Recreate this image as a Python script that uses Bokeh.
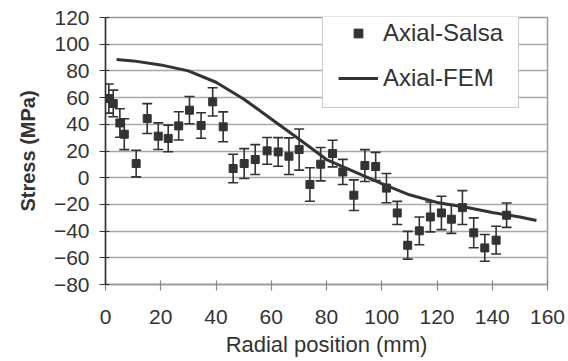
from bokeh.plotting import figure
from bokeh.models import ColumnDataSource, Whisker, Legend, LegendItem, FixedTicker, Range1d, TeeHead
from bokeh.embed import file_html
from bokeh.resources import INLINE

# ---- data ----
x_salsa = [1.2, 2.8, 5.2, 6.8, 11.1, 15.1, 19.1, 22.7, 26.5, 30.4, 34.6, 38.8, 42.6,
           46.2, 50.2, 54.2, 58.5, 62.5, 66.4, 70.1, 74.0, 77.9, 82.2, 85.9, 89.9,
           93.9, 97.8, 101.7, 105.6, 109.4, 113.6, 117.6, 121.6, 125.2, 129.2, 133.3,
           137.3, 141.4, 145.2]
y_salsa = [59.3, 55.6, 41, 32.6, 10.6, 44.3, 31.1, 29.4, 38.8, 50.6, 39.1, 56.8, 38.1,
           6.9, 10.6, 13.6, 20.1, 19.3, 16.1, 21.1, -5.1, 10.1, 18.1, 4.3, -13.1,
           9.1, 8.4, -7.8, -26.4, -50.6, -39.8, -29.4, -26.4, -31.1, -22.4, -41.3,
           -52.6, -46.8, -28.1]
err_salsa = [10.9, 10, 10.7, 11.6, 10, 11.2, 10, 10, 10.6, 10.2, 9.6, 10.6, 11.2,
             10.7, 11.2, 11.2, 10, 10.7, 13.7, 15.4, 12.5, 12.5, 10, 9.4, 11.5,
             11.9, 10.6, 11, 8.7, 10.4, 10.4, 11.2, 12.5, 10.6, 12.7, 11.2,
             10, 10.4, 9.1]
x_fem = [4, 10, 20, 30, 40, 50, 60, 70, 80, 90, 100, 110, 120, 130, 140, 150, 156]
y_fem = [88.5, 87.5, 84.5, 80, 71.5, 59, 44, 29, 13.6, 4.5, -4.5, -12.8, -18.5,
         -22, -26, -29.5, -32]
x_ticks = [0, 20, 40, 60, 80, 100, 120, 140, 160]
y_ticks = [-80, -60, -40, -20, 0, 20, 40, 60, 80, 100, 120]

FONT = "Liberation Sans"
DARK = "#333333"

src = ColumnDataSource(dict(
    x=x_salsa, y=y_salsa,
    upper=[v + e for v, e in zip(y_salsa, err_salsa)],
    lower=[v - e for v, e in zip(y_salsa, err_salsa)],
))

p = figure(width=568, height=361, x_range=Range1d(0, 160), y_range=Range1d(-80, 120),
           output_backend="svg", toolbar_location=None,
           min_border_left=105, min_border_right=21, min_border_top=17, min_border_bottom=77)
p.background_fill_color = "white"
p.border_fill_color = "white"
p.outline_line_color = "#999999"
p.outline_line_width = 1.5

p.xgrid.visible = False
p.ygrid.ticker = FixedTicker(ticks=y_ticks)
p.ygrid.grid_line_color = "#a8a8a8"
p.ygrid.grid_line_width = 1.5

p.xaxis.ticker = FixedTicker(ticks=x_ticks)
p.yaxis.ticker = FixedTicker(ticks=y_ticks)
p.xaxis.minor_tick_line_color = None
p.yaxis.minor_tick_line_color = None

for ax in (p.xaxis, p.yaxis):
    ax.major_label_text_font = FONT
    ax.major_label_text_font_size = "21px"
    ax.major_label_text_color = DARK
    ax.axis_label_text_font = FONT
    ax.axis_label_text_color = DARK
    ax.major_tick_out = 6
    ax.major_tick_in = 4

p.yaxis.axis_line_color = DARK
p.yaxis.axis_line_width = 1.5
p.yaxis.major_tick_line_color = DARK
p.yaxis.major_tick_line_width = 1.2
p.yaxis.major_label_standoff = 10
p.yaxis.axis_label = "Stress (MPa)"
p.yaxis.axis_label_text_font_style = "bold"
p.yaxis.axis_label_text_font_size = "20px"
p.yaxis.axis_label_standoff = 12

p.xaxis.axis_line_color = "#999999"
p.xaxis.axis_line_width = 1.5
p.xaxis.major_tick_line_color = "#888888"
p.xaxis.major_tick_line_width = 1.2
p.xaxis.major_label_standoff = 19
p.xaxis.axis_label = "Radial position (mm)"
p.xaxis.axis_label_text_font_style = "normal"
p.xaxis.axis_label_text_font_size = "22px"
p.xaxis.axis_label_standoff = 5

ln = p.line(x_fem, y_fem, line_color=DARK, line_width=3)

wh = Whisker(source=src, base="x", upper="upper", lower="lower",
             line_color=DARK, line_width=1.6,
             upper_head=TeeHead(size=10, line_color=DARK, line_width=1.6),
             lower_head=TeeHead(size=10, line_color=DARK, line_width=1.6))
p.add_layout(wh)

sq = p.scatter("x", "y", source=src, marker="square", size=8,
               fill_color=DARK, line_color=DARK)

legend = Legend(items=[LegendItem(label="Axial-Salsa", renderers=[sq]),
                       LegendItem(label="Axial-FEM", renderers=[ln])],
                location=(217, 176),
                label_text_font=FONT, label_text_font_size="24px",
                label_text_color=DARK,
                glyph_width=40, glyph_height=22, label_standoff=5,
                label_width=120, spacing=17, padding=15,
                border_line_color="#999999", border_line_width=1.5,
                background_fill_color="white", background_fill_alpha=1.0)
p.add_layout(legend)

open("out.html", "w").write(file_html(p, INLINE))
